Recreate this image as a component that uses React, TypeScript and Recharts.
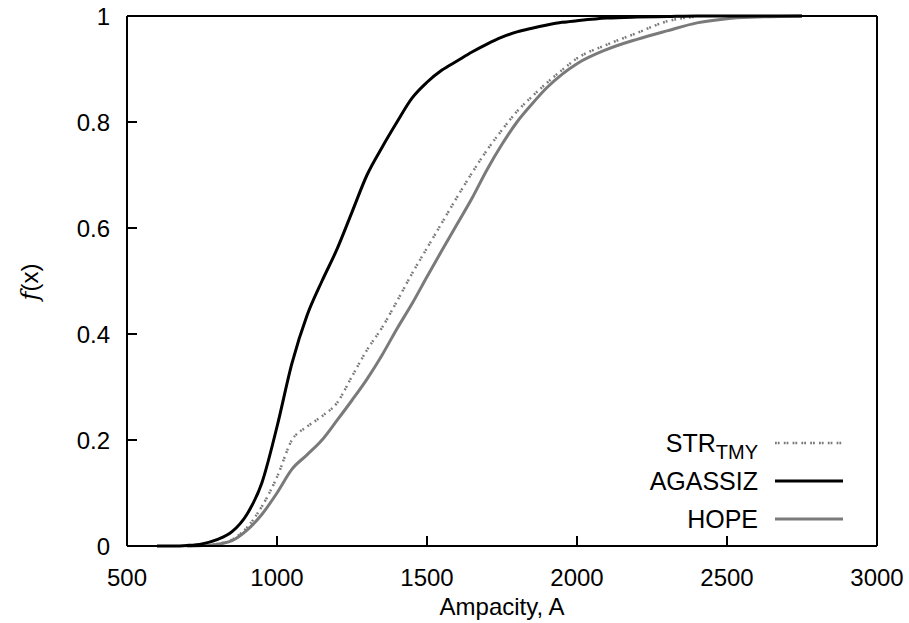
import React from 'react';
import { LineChart, Line, XAxis, YAxis, ReferenceLine } from 'recharts';

const AMPACITY = [600, 650, 700, 750, 800, 850, 900, 950, 1000, 1050, 1100, 1150, 1200, 1250, 1300, 1350, 1400, 1450, 1500, 1550, 1600, 1650, 1700, 1750, 1800, 1850, 1900, 1950, 2000, 2100, 2200, 2300, 2400, 2500, 2600, 2750];
const AGASSIZ = [0, 0, 0.001, 0.004, 0.012, 0.027, 0.06, 0.12, 0.225, 0.345, 0.435, 0.5, 0.56, 0.63, 0.7, 0.752, 0.8, 0.845, 0.875, 0.898, 0.915, 0.932, 0.947, 0.96, 0.97, 0.977, 0.983, 0.988, 0.991, 0.996, 0.998, 0.999, 1, 1, 1, 1];
const HOPE = [null, null, 0, 0.001, 0.003, 0.01, 0.03, 0.06, 0.1, 0.145, 0.172, 0.2, 0.237, 0.275, 0.315, 0.36, 0.41, 0.457, 0.508, 0.558, 0.607, 0.656, 0.71, 0.758, 0.8, 0.834, 0.865, 0.89, 0.91, 0.937, 0.956, 0.972, 0.987, 0.995, 0.998, 1];
const STR_TMY = [null, null, 0, 0.001, 0.004, 0.012, 0.035, 0.075, 0.13, 0.2, 0.225, 0.245, 0.27, 0.32, 0.37, 0.412, 0.462, 0.514, 0.562, 0.61, 0.658, 0.704, 0.747, 0.785, 0.82, 0.848, 0.874, 0.898, 0.92, 0.946, 0.968, 0.99, 0.999, null, null, null];

const X_TICKS = [500, 1000, 1500, 2000, 2500, 3000];
const Y_TICKS = [0, 0.2, 0.4, 0.6, 0.8, 1];

const data = AMPACITY.map((a, i) => ({ a, agassiz: AGASSIZ[i], hope: HOPE[i], str: STR_TMY[i] }));

const FONT = '"Liberation Sans", Arial, Helvetica, sans-serif';
const GRAY = '#7a7a7a';
const DOTS = '1.8 1 1.8 4.2';
const X_MARGIN = 23;
const Y_MARGIN = 17;
const TICK_LEN = 10;

// label plus an inward tick mark, gnuplot style
const XTick = (props: any) => {
  const { x, y, payload } = props;
  const base = y - X_MARGIN;
  const inner = payload.value > 500 && payload.value < 3000;
  return (
    <g>
      {inner && <line x1={x} x2={x} y1={base} y2={base - TICK_LEN} stroke="#000" strokeWidth={2} />}
      <text x={x} y={y + 17} textAnchor="middle" fontFamily={FONT} fontSize={24} fill="#000">{payload.value}</text>
    </g>
  );
};

const YTick = (props: any) => {
  const { x, y, payload } = props;
  const base = x + Y_MARGIN;
  const inner = payload.value > 0 && payload.value < 1;
  return (
    <g>
      {inner && <line x1={base} x2={base + TICK_LEN} y1={y} y2={y} stroke="#000" strokeWidth={2} />}
      <text x={x} y={y + 8.5} textAnchor="end" fontFamily={FONT} fontSize={24} fill="#000">{payload.value}</text>
    </g>
  );
};

const YLabel = () => (
  <text x={38} y={282} transform="rotate(-90 38 282)" textAnchor="middle" fontFamily={FONT} fontSize={24} fill="#000">
    <tspan fontFamily='"DejaVu Serif", serif' fontStyle="italic">f</tspan>
    <tspan>(x)</tspan>
  </text>
);

// overlay: legend, and the inward tick marks again in case the axis layer hides them
const Overlay = () => (
  <svg width={909} height={623} style={{ position: 'absolute', left: 0, top: 0, pointerEvents: 'none' }}>
    {X_TICKS.slice(1, -1).map((t) => {
      const px = 127 + (t - 500) * 0.3;
      return <line key={`x${t}`} x1={px} x2={px} y1={546} y2={546 - TICK_LEN} stroke="#000" strokeWidth={2} />;
    })}
    {Y_TICKS.slice(1, -1).map((t) => {
      const py = 546 - t * 530;
      return <line key={`y${t}`} x1={127} x2={127 + TICK_LEN} y1={py} y2={py} stroke="#000" strokeWidth={2} />;
    })}
    <g fontFamily={FONT} fontSize={25} fill="#000" textAnchor="end">
      <text x={758} y={452}>
        STR<tspan fontSize={20} dy={7}>TMY</tspan>
      </text>
      <text x={758} y={490}>AGASSIZ</text>
      <text x={758} y={528}>HOPE</text>
    </g>
    <line x1={775} x2={843} y1={443} y2={443} stroke={GRAY} strokeWidth={2.5} strokeDasharray={DOTS} />
    <line x1={775} x2={843} y1={481} y2={481} stroke="#000" strokeWidth={3} />
    <line x1={775} x2={843} y1={519} y2={519} stroke={GRAY} strokeWidth={3} />
  </svg>
);

export default function App() {
  return (
    <div style={{ position: 'absolute', left: 0, top: 0, width: 909, height: 623, background: '#fff' }}>
      <LineChart width={909} height={623} data={data} margin={{ top: 16, right: 32, bottom: 0, left: 0 }}>
        <XAxis
          dataKey="a"
          type="number"
          domain={[500, 3000]}
          ticks={X_TICKS}
          height={77}
          tickSize={0}
          tickMargin={X_MARGIN}
          axisLine={{ stroke: '#000', strokeWidth: 2 }}
          tickLine={false}
          tick={<XTick />}
          label={{ value: 'Ampacity, A', position: 'insideBottom', offset: 8, fill: '#000', fontSize: 24, fontFamily: FONT }}
        />
        <YAxis
          type="number"
          domain={[0, 1]}
          ticks={Y_TICKS}
          width={127}
          tickSize={0}
          tickMargin={Y_MARGIN}
          axisLine={{ stroke: '#000', strokeWidth: 2 }}
          tickLine={false}
          tick={<YTick />}
          label={<YLabel />}
        />
        <ReferenceLine y={1} stroke="#000" strokeWidth={2} />
        <ReferenceLine x={3000} stroke="#000" strokeWidth={2} />
        <Line dataKey="hope" type="monotone" stroke={GRAY} strokeWidth={3} dot={false} isAnimationActive={false} />
        <Line dataKey="str" type="monotone" stroke={GRAY} strokeWidth={2.5} strokeDasharray={DOTS} dot={false} isAnimationActive={false} />
        <Line dataKey="agassiz" type="monotone" stroke="#000" strokeWidth={3} dot={false} isAnimationActive={false} />
      </LineChart>
      <Overlay />
    </div>
  );
}
